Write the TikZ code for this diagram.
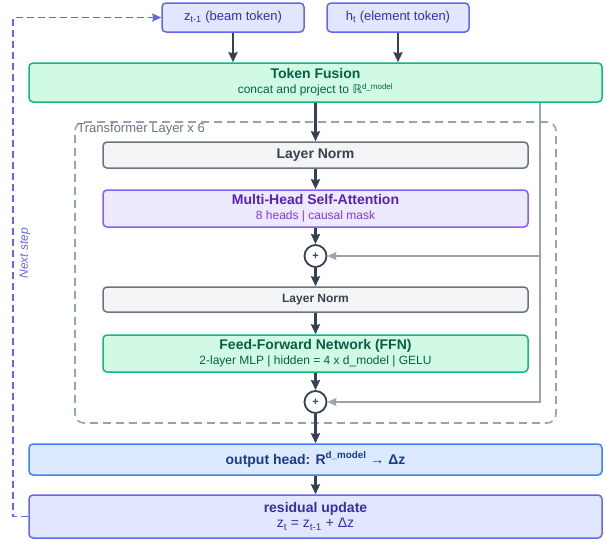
\documentclass[tikz,border=0pt]{standalone}
\usepackage{fontspec}
\setmainfont{Liberation Sans}
\newfontfamily\bbfont{DejaVu Sans}
\usetikzlibrary{arrows.meta}

\definecolor{inkdark}{HTML}{374151}
\definecolor{skipgray}{HTML}{9CA3AF}
\definecolor{framegray}{HTML}{94A3B8}
\definecolor{lblgray}{HTML}{6B7280}
\definecolor{indigofill}{HTML}{E0E7FF}
\definecolor{indigoline}{HTML}{6366F1}
\definecolor{indigotext}{HTML}{3730A3}
\definecolor{greenfill}{HTML}{D1FAE5}
\definecolor{greenline}{HTML}{10B981}
\definecolor{greentext}{HTML}{065F46}
\definecolor{grayfill}{HTML}{F3F4F6}
\definecolor{violetfill}{HTML}{EDE9FE}
\definecolor{violetline}{HTML}{8B5CF6}
\definecolor{violettext}{HTML}{5B21B6}
\definecolor{violetsub}{HTML}{7C3AED}
\definecolor{bluefill}{HTML}{DBEAFE}
\definecolor{blueline}{HTML}{3B82F6}
\definecolor{bluetext}{HTML}{1E3A8A}

\newcommand{\ttl}[1]{{\fontsize{14}{16}\selectfont\bfseries #1}}

\tikzset{
  blockbox/.style={draw, rounded corners=4pt, line width=1.5pt, align=center,
    inner sep=0pt, font=\fontsize{12}{15}\selectfont},
  inbox/.style={blockbox, fill=indigofill, draw=indigoline, text=indigotext,
    minimum width=142pt, minimum height=29pt, font=\fontsize{13}{15}\selectfont},
  greenbox/.style={blockbox, fill=greenfill, draw=greenline, text=greentext},
  normbox/.style={blockbox, fill=grayfill, draw=lblgray, text=inkdark,
    minimum width=425pt},
  attnbox/.style={blockbox, fill=violetfill, draw=violetline, text=violetsub,
    minimum width=425pt, minimum height=37pt},
  headbox/.style={blockbox, fill=bluefill, draw=blueline, text=bluetext,
    minimum width=573pt, minimum height=31pt},
  updbox/.style={blockbox, fill=indigofill, draw=indigoline, text=indigotext,
    minimum width=573pt, minimum height=43pt},
  addnode/.style={circle, draw=inkdark, line width=1.8pt, fill=white,
    minimum size=22pt, inner sep=0pt, text=inkdark,
    font=\fontsize{11}{11}\selectfont\bfseries},
  flow/.style={draw=inkdark, line width=2.2pt,
    -{Stealth[length=10pt,width=9pt,inset=1pt]}},
  skipline/.style={draw=skipgray, line width=1.7pt,
    -{Stealth[length=9pt,width=8pt,inset=1pt]}},
  loopline/.style={draw=indigoline, line width=1.7pt, dash pattern=on 7pt off 4pt,
    -{Stealth[length=9pt,width=8pt,inset=1pt]}},
}

\begin{document}
\begin{tikzpicture}[x=1pt,y=-1pt]
\useasboundingbox (0,0) rectangle (606,542);

% repeated layer frame
\node[draw=framegray, line width=1.6pt, dash pattern=on 8pt off 5pt,
  rounded corners=9pt, minimum width=481pt, minimum height=301pt,
  inner sep=0pt] (layerframe) at (315.5,272.5) {};
\node[anchor=north west, inner sep=1pt, text=lblgray,
  font=\fontsize{13}{15}\selectfont] (layerlbl)
  at ([xshift=2pt,yshift=-1pt]layerframe.north west) {Transformer Layer x 6};

% inputs
\node[inbox] (zbeam) at (233,17.5) {z\textsubscript{t-1} (beam token)};
\node[inbox] (helem) at (398,17.5) {h\textsubscript{t} (element token)};

\node[greenbox, minimum width=573pt, minimum height=39pt] (fusion) at (315.5,82.5)
  {\ttl{Token Fusion}\\concat and project to {\bbfont ℝ}\textsuperscript{d\_model}};

% inside the layer
\node[normbox, minimum height=26pt] (norma) at (315.5,155)
  {\ttl{Layer Norm}};
\node[attnbox] (mhsa) at (315.5,208.5)
  {{\color{violettext}\ttl{Multi-Head Self-Attention}}\\8 heads | causal mask};
\node[addnode] (adda) at (315.5,256) {+};
\node[normbox, minimum height=25pt, font=\fontsize{12}{14}\selectfont\bfseries]
  (normb) at (315.5,299.5) {Layer Norm};
\node[greenbox, minimum width=425pt, minimum height=37pt] (ffn) at (315.5,353.5)
  {\ttl{Feed-Forward Network (FFN)}\\2-layer MLP | hidden = 4 x d\_model | GELU};
\node[addnode] (addb) at (315.5,402) {+};

% outputs
\node[headbox] (outhead) at (315.5,459.5)
  {\ttl{output head: R\textsuperscript{d\_model} → Δz}};
\node[updbox] (resid) at (315.5,516.5)
  {\ttl{residual update}\\{\fontsize{14}{16}\selectfont z\textsubscript{t} = z\textsubscript{t-1} + Δz}};

% main flow
\draw[flow] (zbeam.south) -- (zbeam.south |- fusion.north);
\draw[flow] (helem.south) -- (helem.south |- fusion.north);
\draw[flow] (fusion.south) -- (norma.north);
\draw[flow] (norma.south) -- (mhsa.north);
\draw[flow] (mhsa.south) -- (adda.north);
\draw[flow] (adda.south) -- (normb.north);
\draw[flow] (normb.south) -- (ffn.north);
\draw[flow] (ffn.south) -- (addb.north);
\draw[flow] (addb.south) -- (outhead.north);
\draw[flow] (outhead.south) -- (resid.north);

% residual skips
\coordinate (skipx) at (540,0);
\draw[skipline] (fusion.south -| skipx) |- (addb.east);
\draw[skipline] (skipx |- adda) -- (adda.east);

% next step loop
\draw[loopline] (resid.west) -- ++(-15,0) |- (zbeam.west);
\node[rotate=90, text=indigoline, inner sep=0pt,
  font=\fontsize{12}{14}\selectfont\itshape] (nextlbl) at (25,253) {Next step};
\end{tikzpicture}
\end{document}
